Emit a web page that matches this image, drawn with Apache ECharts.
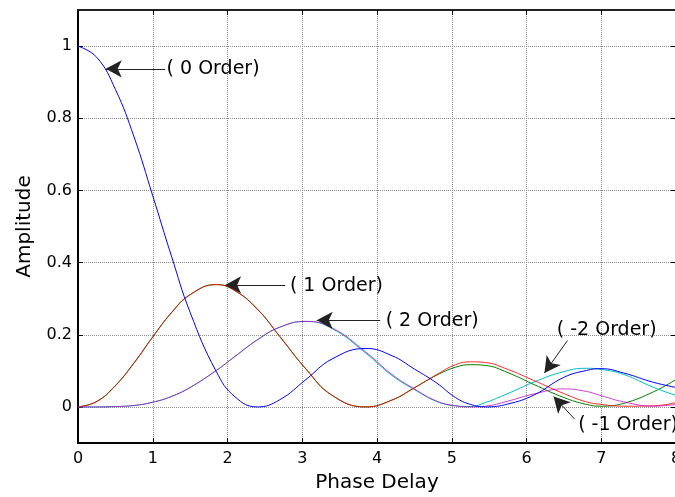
<!DOCTYPE html>
<html><head><meta charset="utf-8">
<script src="https://cdn.jsdelivr.net/npm/echarts@6/dist/echarts.min.js"></script>
<style>html,body{margin:0;padding:0;background:#fff}#c{width:675px;height:497px}</style>
</head><body><div id="c"></div>
<script>
// ---- data (samples placed at peaks and valleys) ----
const phaseDelay = [0,0.25,0.5,0.75,1.0,1.25,1.5,1.85,2.1,2.4,2.7,3.05,3.4,3.85,4.2,4.5,4.8,5.05,5.25,5.45,5.75,6.1,6.5,6.8,7.0,7.3,7.7,8.0];
const order0  = [1.0,0.969,0.88,0.748,0.585,0.418,0.262,0.098,0.028,0.0,0.02,0.076,0.133,0.162,0.142,0.105,0.066,0.026,0.007,0.0,0.008,0.033,0.082,0.101,0.106,0.094,0.068,0.054];
const orderP1 = [0,0.015,0.059,0.122,0.194,0.261,0.311,0.339,0.322,0.271,0.195,0.105,0.032,0.0,0.019,0.053,0.09,0.117,0.125,0.123,0.104,0.073,0.037,0.014,0.007,0.002,0.003,0.012];
const orderM1 = [0,0.015,0.059,0.122,0.194,0.261,0.311,0.339,0.322,0.271,0.195,0.105,0.032,0.0,0.019,0.053,0.088,0.11,0.117,0.115,0.095,0.062,0.026,0.007,0.002,0.01,0.042,0.076];
const orderP2 = [0,0,0.001,0.004,0.013,0.029,0.054,0.101,0.14,0.186,0.221,0.237,0.219,0.152,0.09,0.05,0.016,0.003,0.0,0.002,0.016,0.036,0.05,0.043,0.031,0.014,0.002,0.007];
const orderM2 = [0,0,0.001,0.004,0.013,0.029,0.054,0.101,0.14,0.186,0.221,0.237,0.217,0.149,0.087,0.048,0.015,0.003,0.001,0.012,0.037,0.069,0.098,0.107,0.104,0.09,0.054,0.032];
const yTickValues = [0,0.2,0.4,0.6,0.8,1];
const xTickValues = [0,1,2,3,4,5,6,7,8];
const labelTexts = ['( 0 Order)','( 1 Order)','( 2 Order)','( -2 Order)','( -1 Order)'];

// ---- chart ----
const FONT = 'DejaVu Sans';
const pairs = arr => phaseDelay.map((x, i) => [x, arr[i]]);

const arrowDefs = [
  {tail:[1.165,0.937], head:[0.371,0.937], at:[1.178,0.937]},
  {tail:[2.771,0.338], head:[1.968,0.338], at:[2.828,0.335]},
  {tail:[4.042,0.240], head:[3.194,0.240], at:[4.109,0.238]},
  {tail:[6.548,0.184], head:[6.240,0.094], at:[6.398,0.213]},
  {tail:[6.645,-0.034], head:[6.362,0.029], at:[6.684,-0.049]}
];

const chart = echarts.init(document.getElementById('c'), null, {renderer:'canvas'});
const gridLine = {show:true, lineStyle:{color:'#8c8c8c', width:1, type:'dotted'}};
const lineSeries = (name, arr, color, opacity, z) => ({
  name, type:'line', data: pairs(arr), symbol:'none', smooth:0.45,
  lineStyle:{color, width:1, opacity}, itemStyle:{color}, z, animation:false,
  xAxisIndex:0, yAxisIndex:0
});

const blue = lineSeries('0 Order', order0, '#0000ff', 1, 5);
blue.markLine = {
  silent:true, animation:false, label:{show:false},
  lineStyle:{color:'#222', width:1, type:'solid'},
  data: arrowDefs.map(a => [
    {coord:a.tail, symbol:'none'},
    {coord:a.head, symbol:'arrow', symbolSize:[13,16]}
  ])
};
blue.markPoint = {
  silent:true, animation:false, symbol:'circle', symbolSize:1,
  itemStyle:{color:'rgba(0,0,0,0)'},
  label:{show:true, position:'right', distance:0, color:'#000', fontSize:19, fontFamily:FONT},
  data: arrowDefs.map((a, i) => ({coord:a.at, value:labelTexts[i], label:{formatter:labelTexts[i]}}))
};

chart.setOption({
  animation:false,
  backgroundColor:'#fff',
  textStyle:{fontFamily:FONT},
  grid:{left:78, right:-1, top:10, bottom:54, containLabel:false, outerBoundsMode:'none'},
  xAxis:[
    {type:'value', min:0, max:8, interval:1, position:'bottom',
     name:'Phase Delay', nameLocation:'middle', nameGap:30,
     nameTextStyle:{color:'#000', fontSize:20, fontFamily:FONT},
     axisLine:{show:true, onZero:false, lineStyle:{color:'#000', width:2}},
     axisTick:{show:true, inside:true, length:5, lineStyle:{color:'#000', width:1}},
     axisLabel:{show:true, color:'#000', fontSize:16, fontFamily:FONT, margin:8,
                customValues:xTickValues, hideOverlap:false},
     splitLine:gridLine},
    {type:'value', min:0, max:8, interval:1, position:'top',
     axisLine:{show:true, onZero:false, lineStyle:{color:'#222', width:2}},
     axisTick:{show:true, inside:true, length:5, lineStyle:{color:'#000', width:1}},
     axisLabel:{show:false}, splitLine:{show:false}}
  ],
  yAxis:[
    {type:'value', min:-0.1, max:1.1, position:'left',
     name:'Amplitude', nameLocation:'middle', nameGap:43, nameRotate:90,
     nameTextStyle:{color:'#000', fontSize:20, fontFamily:FONT},
     axisLine:{show:true, onZero:false, lineStyle:{color:'#000', width:2}},
     axisTick:{show:true, inside:true, length:5, customValues:yTickValues, lineStyle:{color:'#000', width:1}},
     axisLabel:{show:true, color:'#000', fontSize:16, fontFamily:FONT, margin:6,
                customValues:yTickValues, formatter:v => String(+v.toFixed(1))},
     splitLine:gridLine},
    {type:'value', min:-0.1, max:1.1, position:'right',
     axisLine:{show:true, onZero:false, lineStyle:{color:'#000', width:2}},
     axisTick:{show:true, inside:true, length:5, customValues:yTickValues, lineStyle:{color:'#000', width:1}},
     axisLabel:{show:false}, splitLine:{show:false}}
  ],
  series:[
    blue,
    lineSeries('-1 Order', orderM1, '#008000', 1, 2),
    lineSeries('1 Order', orderP1, '#ff0000', 0.82, 3),
    lineSeries('-2 Order', orderM2, '#00bfbf', 1, 2),
    lineSeries('2 Order', orderP2, '#bf00bf', 0.75, 3)
  ]
});
</script>
</body></html>
